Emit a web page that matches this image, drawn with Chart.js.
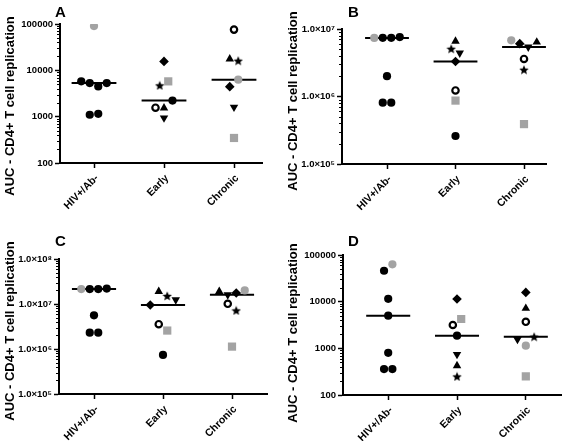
<!DOCTYPE html>
<html><head><meta charset="utf-8">
<script src="https://cdn.jsdelivr.net/npm/chart.js@4.4.1/dist/chart.umd.min.js"></script>
<style>
html,body{margin:0;padding:0;background:#fff;}
#wrap{position:relative;width:567px;height:441px;overflow:hidden;font-family:"Liberation Sans",Arial,sans-serif;color:#000;}
canvas{position:absolute;}
.ytitle{position:absolute;font-weight:bold;font-size:13px;white-space:nowrap;transform:translate(-50%,-50%) rotate(-90deg);}
.letter{position:absolute;font-weight:bold;font-size:15px;line-height:15px;}
</style></head>
<body><div id="wrap">
<canvas id="cA" width="283" height="220" style="left:0;top:0"></canvas>
<canvas id="cB" width="284" height="220" style="left:283px;top:0"></canvas>
<canvas id="cC" width="283" height="221" style="left:0;top:220px"></canvas>
<canvas id="cD" width="284" height="221" style="left:283px;top:220px"></canvas>
<div class="ytitle" style="left:9px;top:106px">AUC - CD4+ T cell replication</div>
<div class="ytitle" style="left:292px;top:101px">AUC - CD4+ T cell replication</div>
<div class="ytitle" style="left:9px;top:331px">AUC - CD4+ T cell replication</div>
<div class="ytitle" style="left:292px;top:333px">AUC - CD4+ T cell replication</div>
<div class="letter" style="left:55px;top:4px">A</div>
<div class="letter" style="left:348px;top:4px">B</div>
<div class="letter" style="left:55px;top:233px">C</div>
<div class="letter" style="left:348px;top:233px">D</div>
</div>
<script>
// ---------- DATA ----------
const categories = ['HIV+/Ab-', 'Early', 'Chronic'];

// Panel A
const A_hivIds = ['H1','H2','H3','H4','H5','H6','H7'];
const A_hiv = [90000, 5800, 5300, 4500, 5300, 1100, 1150];
const A_earlyIds = ['E1','E2','E3','E5','E6','E4','E7'];
const A_early = [15600, 4740, 5780, 1560, 1540, 2220, 940];
const A_chronicIds = ['C1','C2','C3','C5','C4','C6','C7'];
const A_chronic = [75700, 17600, 16200, 4450, 6300, 1610, 347];
const A_ticks = [100, 1000, 10000, 100000];

// Panel B
const B_hivIds = ['H1','H2','H3','H4','H5','H6','H7'];
const B_hiv = [7.38e6, 7.4e6, 7.4e6, 7.6e6, 2.0e6, 8.1e5, 8.1e5];
const B_earlyIds = ['E6','E2','E7','E1','E5','E3','E4'];
const B_early = [6.6e6, 5.1e6, 4.4e6, 3.3e6, 1.23e6, 8.7e5, 2.6e5];
const B_chronicIds = ['C4','C5','C6','C2','C1','C3','C7'];
const B_chronic = [6.8e6, 6.07e6, 5.4e6, 6.4e6, 3.6e6, 2.5e6, 3.9e5];
const B_ticks = [1e5, 1e6, 1e7];

// Panel C
const C_hivIds = ['H1','H2','H3','H4','H5','H6','H7'];
const C_hiv = [2.15e7, 2.15e7, 2.15e7, 2.2e7, 5.6e6, 2.3e6, 2.3e6];
const C_earlyIds = ['E1','E6','E2','E7','E5','E3','E4'];
const C_early = [9.5e6, 1.9e7, 1.52e7, 1.24e7, 3.56e6, 2.57e6, 7.4e5];
const C_chronicIds = ['C2','C6','C5','C4','C1','C3','C7'];
const C_chronic = [1.9e7, 1.6e7, 1.75e7, 2.0e7, 1.01e7, 7.2e6, 1.13e6];
const C_ticks = [1e5, 1e6, 1e7, 1e8];

// Panel D
const D_hivIds = ['H2','H1','H3','H4','H5','H6','H7'];
const D_hiv = [46000, 63000, 11500, 5000, 800, 360, 360];
const D_earlyIds = ['E1','E5','E3','E4','E7','E6','E2'];
const D_early = [11400, 3160, 4250, 1870, 740, 425, 250];
const D_chronicIds = ['C5','C2','C1','C6','C4','C3','C7'];
const D_chronic = [15800, 7200, 3700, 1550, 1140, 1780, 250];
const D_ticks = [100, 1000, 10000, 100000];

// ---------- STYLES ----------
Chart.defaults.font.family = '"Liberation Sans", Arial, sans-serif';
const GREY = '#a3a3a3';
function makeStar(size, color){
  const c = document.createElement('canvas'); c.width = c.height = size;
  const g = c.getContext('2d'); g.fillStyle = color; g.beginPath();
  const cx = size/2, cy = size/2 + 0.5, R = size/2, r = R*0.45;
  for (let i = 0; i < 10; i++) {
    const a = -Math.PI/2 + i*Math.PI/5, rad = i % 2 ? r : R;
    g.lineTo(cx + rad*Math.cos(a), cy + rad*Math.sin(a));
  }
  g.closePath(); g.fill(); return c;
}
const starImg = makeStar(10, '#000');
const markers = {
  blackCircle: {s:'circle', r:4.1, bg:'#000', bc:'#000', bw:0, rot:0},
  greyCircle:  {s:'circle', r:4.1, bg:GREY, bc:GREY, bw:0, rot:0},
  openCircle:  {s:'circle', r:3.2, bg:'#fff', bc:'#000', bw:2.2, rot:0},
  diamond:     {s:'rectRot', r:4.8, bg:'#000', bc:'#000', bw:0, rot:0},
  star:        {s:starImg, r:5, bg:'#000', bc:'#000', bw:0, rot:0},
  greySquare:  {s:'rect', r:5.8, bg:GREY, bc:GREY, bw:0, rot:0},
  triUp:       {s:'triangle', r:4.9, bg:'#000', bc:'#000', bw:0, rot:0},
  triDown:     {s:'triangle', r:4.9, bg:'#000', bc:'#000', bw:0, rot:180}
};
const subjectMarker = {
  H1:'greyCircle', H2:'blackCircle', H3:'blackCircle', H4:'blackCircle', H5:'blackCircle', H6:'blackCircle', H7:'blackCircle',
  E1:'diamond', E2:'star', E3:'greySquare', E4:'blackCircle', E5:'openCircle', E6:'triUp', E7:'triDown',
  C1:'openCircle', C2:'triUp', C3:'star', C4:'greyCircle', C5:'diamond', C6:'triDown', C7:'greySquare'
};
const mk = ctx => markers[subjectMarker[(ctx.raw && ctx.raw.id) || 'H2']];

// ---------- HELPERS ----------
function median(a){ const s = [...a].sort((x,y)=>x-y); const n = s.length; return n % 2 ? s[(n-1)/2] : (s[n/2-1]+s[n/2])/2; }
// GraphPad-like horizontal spreading of points that would overlap
function spread(values, pxPerDecade, d, T){
  const n = values.length;
  const ypx = values.map(v => Math.log10(v)*pxPerDecade);
  const idx = [...Array(n).keys()].sort((a,b)=>ypx[a]-ypx[b]);
  const clusters = []; let cur = [idx[0]];
  for (let k = 1; k < n; k++) {
    if (ypx[idx[k]] - ypx[idx[k-1]] < T) cur.push(idx[k]); else { clusters.push(cur); cur = [idx[k]]; }
  }
  clusters.push(cur);
  const off = new Array(n).fill(0);
  clusters.forEach(c => { c.sort((a,b)=>a-b); c.forEach((p,i) => off[p] = (i - (c.length-1)/2)*d); });
  return off;
}
function supDigits(n){ const m = '⁰¹²³⁴⁵⁶⁷⁸⁹'; return String(n).split('').map(c => m[+c]).join(''); }
const fmtPlain = v => String(Math.round(v));
const fmtSci = v => '1.0×10' + supDigits(Math.round(Math.log10(v)));

const minorTicks = {
  id:'minorTicks',
  afterDraw(chart){
    const s = chart.scales.y, ctx = chart.ctx;
    const lo = Math.round(Math.log10(s.min)), hi = Math.round(Math.log10(s.max));
    ctx.save(); ctx.strokeStyle = '#000'; ctx.lineWidth = 1;
    for (let e = lo; e < hi; e++) for (let m = 2; m <= 9; m++) {
      const y = Math.round(s.getPixelForValue(m*Math.pow(10,e))) + 0.5;
      ctx.beginPath(); ctx.moveTo(s.right - 3, y); ctx.lineTo(s.right, y); ctx.stroke();
    }
    ctx.restore();
  }
};

function makePanel(canvasId, box, area, tick0, step, groups, yTicks, fmt){
  const decades = Math.log10(yTicks[yTicks.length-1]) - Math.log10(yTicks[0]);
  const pxPerDecade = (area.b - area.t)/decades;
  const d = 8.5;
  const points = [], lines = [];
  groups.forEach((g, ci) => {
    const off = spread(g.values, pxPerDecade, d, 7.2);
    g.values.forEach((v, i) => points.push({x: ci + off[i]/step, y: v, id: g.ids[i]}));
    const med = median(g.values);
    lines.push([{x: ci - 0.32, y: med}, {x: ci + 0.32, y: med}]);
  });
  const xmin = -(tick0 - area.l)/step, xmax = (area.r - tick0)/step;
  const datasets = [{
    type:'scatter', data: points, order: 0,
    pointStyle: c => mk(c).s, pointRadius: c => mk(c).r,
    pointBackgroundColor: c => mk(c).bg, pointBorderColor: c => mk(c).bc,
    pointBorderWidth: c => mk(c).bw, pointRotation: c => mk(c).rot,
    pointHoverRadius: c => mk(c).r
  }];
  lines.forEach(l => datasets.push({type:'line', data:l, order:1, borderColor:'#000', borderWidth:2, pointRadius:0, showLine:true}));
  new Chart(document.getElementById(canvasId), {
    type:'scatter',
    data:{datasets},
    plugins:[minorTicks],
    options:{
      responsive:false, animation:false, events:[],
      layout:{padding:{left:0, top: area.t - box.y, right: box.x + box.w - area.r, bottom:0}},
      plugins:{legend:{display:false}, tooltip:{enabled:false}},
      scales:{
        x:{type:'linear', min:xmin, max:xmax,
          afterBuildTicks: s => { s.ticks = [0,1,2].map(v => ({value:v})); },
          afterFit: s => { s.height = box.y + box.h - area.b; },
          border:{display:true, color:'#000', width:2},
          grid:{drawOnChartArea:false, drawTicks:true, tickLength:5, tickColor:'#000', tickWidth:1.5},
          ticks:{autoSkip:false, minRotation:45, maxRotation:45, padding:4, labelOffset:3, color:'#000',
            font:{size:10.5, weight:'bold'}, callback: v => categories[v]}
        },
        y:{type:'logarithmic', min:yTicks[0], max:yTicks[yTicks.length-1],
          afterBuildTicks: s => { s.ticks = yTicks.map(v => ({value:v})); },
          afterFit: s => { s.width = area.l - box.x; },
          border:{display:true, color:'#000', width:2},
          grid:{drawOnChartArea:false, drawTicks:true, tickLength:5, tickColor:'#000', tickWidth:1.5},
          ticks:{padding:2, color:'#000', font:{size:9.5, weight:'bold'}, callback: v => fmt(v)}
        }
      }
    }
  });
}

makePanel('cA', {x:0,y:0,w:283,h:220}, {l:60,t:24,r:262,b:163}, 94, 70,
  [{ids:A_hivIds, values:A_hiv}, {ids:A_earlyIds, values:A_early}, {ids:A_chronicIds, values:A_chronic}], A_ticks, fmtPlain);
makePanel('cB', {x:283,y:0,w:284,h:220}, {l:342,t:29,r:546,b:164}, 387, 68.5,
  [{ids:B_hivIds, values:B_hiv}, {ids:B_earlyIds, values:B_early}, {ids:B_chronicIds, values:B_chronic}], B_ticks, fmtSci);
makePanel('cC', {x:0,y:220,w:283,h:221}, {l:59,t:259,r:267,b:394}, 94, 69,
  [{ids:C_hivIds, values:C_hiv}, {ids:C_earlyIds, values:C_early}, {ids:C_chronicIds, values:C_chronic}], C_ticks, fmtSci);
makePanel('cD', {x:283,y:220,w:284,h:221}, {l:343,t:255,r:565,b:395}, 389, 70,
  [{ids:D_hivIds, values:D_hiv}, {ids:D_earlyIds, values:D_early}, {ids:D_chronicIds, values:D_chronic}], D_ticks, fmtPlain);
</script>
</body></html>
